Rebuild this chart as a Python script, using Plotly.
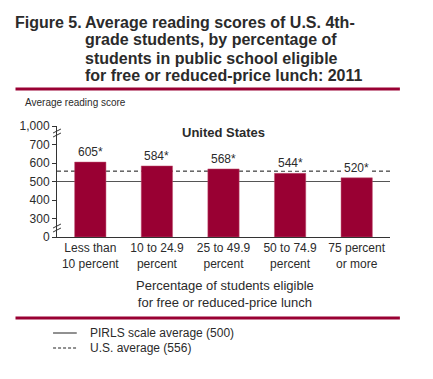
import plotly.graph_objects as go

categories = ["Less than<br>10 percent", "10 to 24.9<br>percent", "25 to 49.9<br>percent",
              "50 to 74.9<br>percent", "75 percent<br>or more"]
scores = [605, 584, 568, 544, 520]
score_labels = ["605*", "584*", "568*", "544*", "520*"]
pirls_avg = 500
us_avg = 556
ytick_vals = [200, 300, 400, 500, 600, 700, 800]
ytick_text = ["0", "300", "400", "500", "600", "700", "1,000"]
axis_base = 200  # position on the axis labelled "0" (broken axis)

OFF = 8  # page body margin
W, H = 433 - OFF, 379 - OFF
L, R, T, B = 53, 390, 126, 237  # plot area in page pixels
RED = "#990033"
TXT = "#2b2b2b"
FONT = "Liberation Sans"


def px(x):
    return (x - L) / (R - L)


def py(y):
    return (B - y) / (B - T)


fig = go.Figure()
fig.add_trace(go.Bar(
    x=list(range(len(categories))), y=[s - axis_base for s in scores], base=axis_base,
    marker=dict(color=RED, line=dict(color="#c05070", width=0.5)),
    width=0.47, hoverinfo="skip",
))

shapes = [
    dict(type="line", xref="paper", yref="y", x0=0, x1=1, y0=pirls_avg, y1=pirls_avg,
         line=dict(color="#555555", width=1), layer="below"),
    dict(type="line", xref="paper", yref="y", x0=0, x1=1, y0=us_avg, y1=us_avg,
         line=dict(color="#111111", width=1, dash="4px,3px"), layer="below"),
    # red rules
    dict(type="line", xref="paper", yref="paper", x0=px(11), x1=px(400), y0=py(89), y1=py(89),
         line=dict(color=RED, width=3)),
    dict(type="line", xref="paper", yref="paper", x0=px(11), x1=px(400), y0=py(318), y1=py(318),
         line=dict(color=RED, width=3)),
    # legend lines
    dict(type="line", xref="paper", yref="paper", x0=px(49), x1=px(73), y0=py(333), y1=py(333),
         line=dict(color="#222222", width=1)),
    dict(type="line", xref="paper", yref="paper", x0=px(49), x1=px(73), y0=py(348), y1=py(348),
         line=dict(color="#222222", width=1, dash="3px,2px")),
]
# axis break marks
for yb in (py(133), py(228)):
    for d in (-2, 2):
        shapes.append(dict(type="line", xref="paper", yref="paper",
                           x0=px(49), x1=px(57), y0=yb + (d - 2) / 111, y1=yb + (d + 2) / 111,
                           line=dict(color="#333333", width=1)))

title_lines = ["Average reading scores of U.S. 4th-", "grade students, by percentage of",
               "students in public school eligible", "for free or reduced-price lunch: 2011"]
title_y = [22, 40, 58, 75]

annotations = [
    dict(text="<b>Figure 5.</b>", x=px(8), y=py(22), xanchor="left", yanchor="middle",
         font=dict(family=FONT, size=16, color=TXT)),
]
for line, yy in zip(title_lines, title_y):
    annotations.append(dict(text="<b>" + line + "</b>", x=px(79), y=py(yy), xanchor="left",
                            yanchor="middle", font=dict(family=FONT, size=16, color=TXT)))
annotations += [
    dict(text="Average reading score", x=px(19), y=py(103), xanchor="left", yanchor="middle",
         font=dict(family=FONT, size=10, color=TXT)),
    dict(text="<b>United States</b>", x=px(222), y=py(132), xanchor="center", yanchor="middle",
         font=dict(family=FONT, size=13, color=TXT)),
    dict(text="Percentage of students eligible<br>for free or reduced-price lunch",
         x=px(223), y=py(294), xanchor="center", yanchor="middle", align="center",
         font=dict(family=FONT, size=13, color=TXT)),
    dict(text="PIRLS scale average (500)", x=px(84), y=py(333), xanchor="left", yanchor="middle",
         font=dict(family=FONT, size=12, color=TXT)),
    dict(text="U.S. average (556)", x=px(84), y=py(348), xanchor="left", yanchor="middle",
         font=dict(family=FONT, size=12, color=TXT)),
]
for a in annotations:
    a.update(xref="paper", yref="paper", showarrow=False)

# value labels above the bars, masking the reference lines
for i, (s, lab) in enumerate(zip(scores, score_labels)):
    annotations.append(dict(text=lab, x=i, y=s, xref="x", yref="y", xanchor="center",
                            yanchor="bottom", yshift=2, showarrow=False, bgcolor="white",
                            borderpad=0, font=dict(family=FONT, size=12, color=TXT)))

fig.update_layout(
    width=W, height=H, margin=dict(l=L - OFF, r=W - (R - OFF), t=T - OFF, b=H - (B - OFF)),
    plot_bgcolor="white", paper_bgcolor="white", showlegend=False,
    shapes=shapes, annotations=annotations,
    xaxis=dict(range=[-0.5, 4.5], tickvals=list(range(len(categories))), ticktext=categories,
               showline=True, linecolor="#333333", linewidth=1, ticks="", showgrid=False,
               zeroline=False, fixedrange=True,
               tickfont=dict(family=FONT, size=12, color=TXT)),
    yaxis=dict(range=[200, 800], tickvals=ytick_vals, ticktext=ytick_text,
               showline=True, linecolor="#333333", linewidth=1, ticks="outside", ticklen=4,
               tickcolor="#333333", showgrid=False, zeroline=False, fixedrange=True,
               tickfont=dict(family=FONT, size=12, color=TXT)),
)

fig.write_html("out.html")
